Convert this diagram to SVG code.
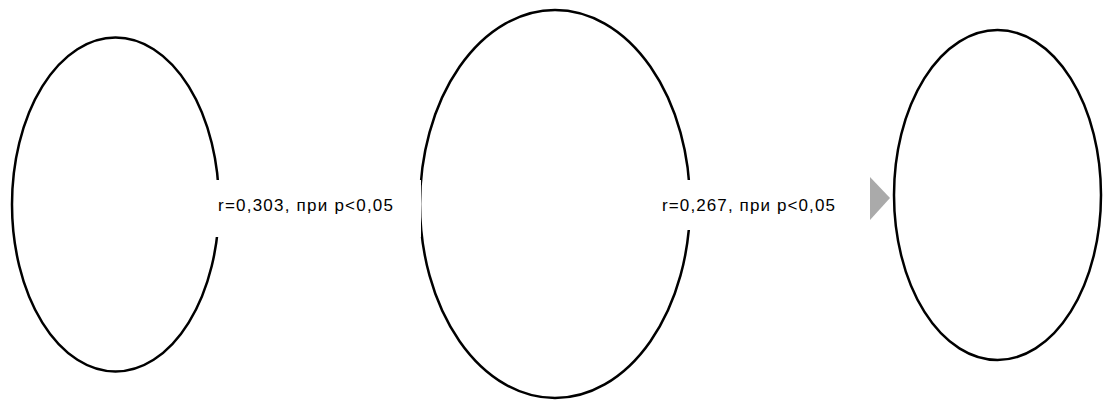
<svg xmlns="http://www.w3.org/2000/svg" width="1109" height="400" viewBox="0 0 1109 400">
  <style>
    .node { fill: #ffffff; stroke: #000000; stroke-width: 2.5; }
    .lblbg { fill: #ffffff; stroke: none; }
    .lbl { font-family: "Liberation Sans", "Open Sans", sans-serif; font-size: 17px; fill: #000000; }
    .head { fill: #aaaaaa; stroke: none; }
  </style>
  <rect x="0" y="0" width="1109" height="400" fill="#ffffff"/>
  <g id="node1">
    <ellipse class="node" cx="115.5" cy="204.5" rx="103.5" ry="167"/>
  </g>
  <g id="node2">
    <ellipse class="node" cx="555" cy="204" rx="135" ry="194"/>
  </g>
  <g id="node3">
    <ellipse class="node" cx="997.5" cy="195" rx="103.5" ry="165"/>
  </g>
  <g id="connectors">
    <g id="edge1">
      <rect class="lblbg" x="214" y="180" width="207" height="57"/>
      <text class="lbl" x="218" y="211" textLength="175" lengthAdjust="spacing">r=0,303, при p&lt;0,05</text>
    </g>
    <g id="edge2">
      <rect class="lblbg" x="658" y="180" width="182" height="50"/>
      <text class="lbl" x="662" y="211" textLength="173" lengthAdjust="spacing">r=0,267, при p&lt;0,05</text>
      <polygon class="head" points="870,177 890,198 870,220"/>
    </g>
  </g>
</svg>
